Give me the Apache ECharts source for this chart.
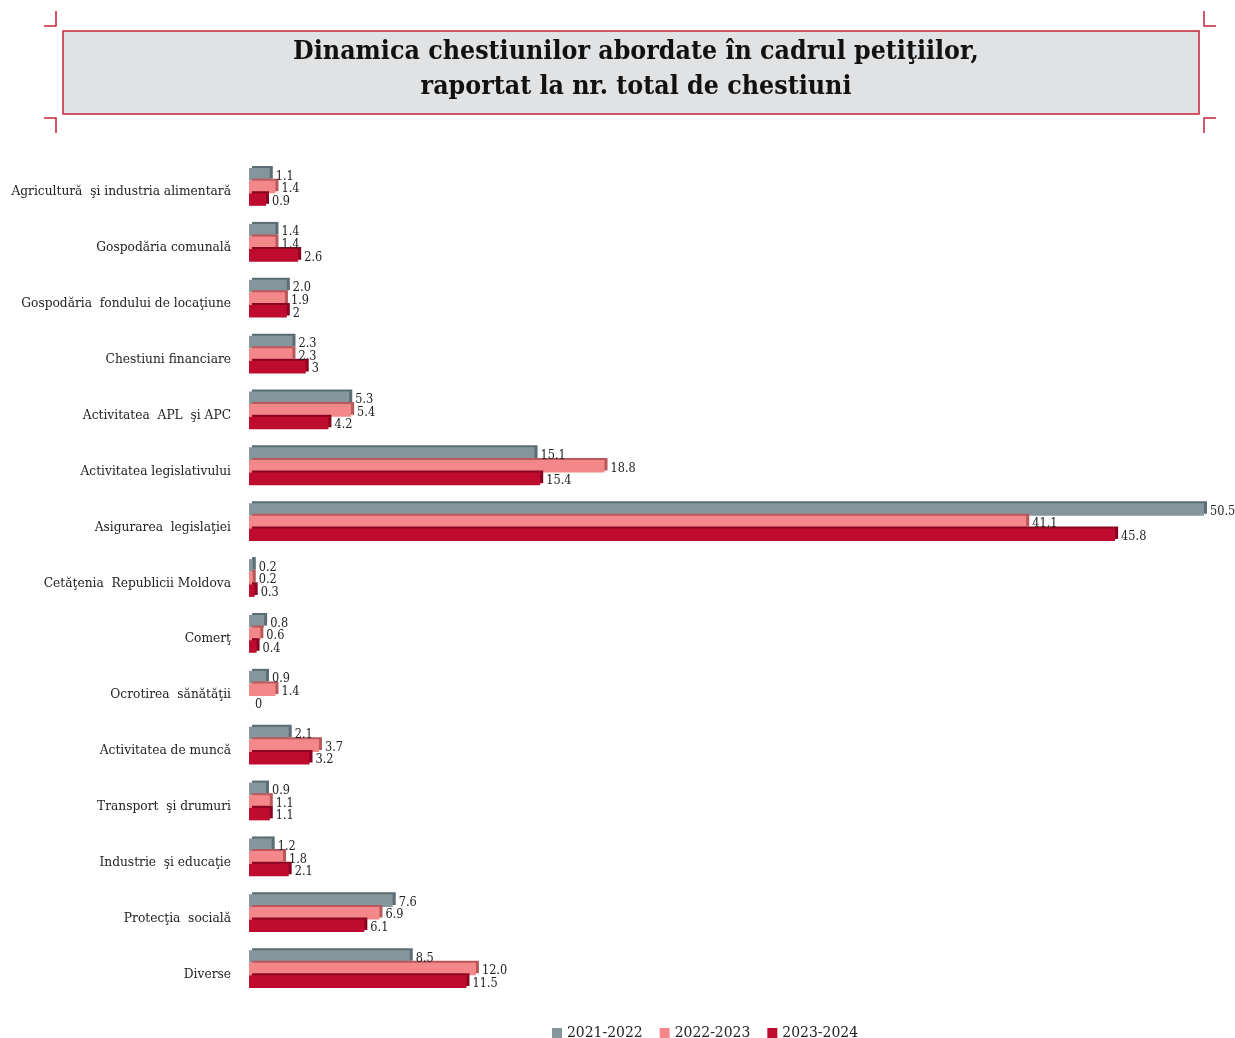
<!DOCTYPE html>
<html><head><meta charset="utf-8">
<script src="https://cdn.jsdelivr.net/npm/echarts@6/dist/echarts.min.js"></script>
<style>html,body{margin:0;padding:0;background:#fff}#c{width:1235px;height:1038px}</style>
</head><body><div id="c"></div>
<script>
const categories = ["Agricultură  şi industria alimentară","Gospodăria comunală","Gospodăria  fondului de locaţiune","Chestiuni financiare","Activitatea  APL  şi APC","Activitatea legislativului","Asigurarea  legislaţiei","Cetăţenia  Republicii Moldova","Comerţ","Ocrotirea  sănătăţii","Activitatea de muncă","Transport  şi drumuri","Industrie  şi educaţie","Protecţia  socială","Diverse"];
const seriesNames = ["2021-2022","2022-2023","2023-2024"];
const values2122 = [1.1,1.4,2.0,2.3,5.3,15.1,50.5,0.2,0.8,0.9,2.1,0.9,1.2,7.6,8.5];
const values2223 = [1.4,1.4,1.9,2.3,5.4,18.8,41.1,0.2,0.6,1.4,3.7,1.1,1.8,6.9,12.0];
const values2324 = [0.9,2.6,2,3,4.2,15.4,45.8,0.3,0.4,0,3.2,1.1,2.1,6.1,11.5];
const colors = ["#84969c","#f4878a","#bf0c2e"];
const sideColors = ["#5b6c72","#b9585b","#8a0620"];
const serif = "'DejaVu Serif Condensed','DejaVu Serif',serif";
const titleFont = "'DejaVu Serif Condensed','DejaVu Serif',serif";

const chart = echarts.init(document.getElementById('c'), null, {renderer:'canvas'});
const allVals = [values2122, values2223, values2324];
const fmt = [v=>v.toFixed(1), v=>v.toFixed(1), v=>String(v)];
const red = "#c8203a";
function corner(x1,y1,x2,y2,x3,y3){return {type:'polyline',shape:{points:[[x1,y1],[x2,y2],[x3,y3]]},style:{stroke:red,lineWidth:1.5,fill:null}};}
chart.setOption({
  animation:false,
  color: colors,
  graphic:[
    {type:'rect',shape:{x:63,y:31,width:1136,height:83},style:{fill:'#e1e2e4',stroke:red,lineWidth:1.5}},
    {type:'text',style:{x:636,y:70,text:'Dinamica chestiunilor abordate în cadrul petiţiilor,\nraportat la nr. total de chestiuni',align:'center',verticalAlign:'middle',font:"bold 26.5px "+titleFont,fill:'#111',lineHeight:35}},
    corner(44,26,56,26,56,11),
    corner(44,118,56,118,56,133),
    corner(1216,26,1204,26,1204,11),
    corner(1216,118,1204,118,1204,133)
  ],
  legend:{left:547,top:1020,itemWidth:10,itemHeight:10,itemGap:17,icon:'rect',
    textStyle:{fontFamily:serif,fontSize:15.5,color:'#222'},data:seriesNames},
  grid:{left:249,top:159,width:955,height:838,containLabel:false},
  xAxis:{type:'value',min:0,max:50.5,show:false},
  yAxis:{type:'category',data:categories,inverse:true,
    axisLine:{show:false},axisTick:{show:false},
    axisLabel:{margin:18,fontFamily:serif,fontSize:13.6,color:'#222',verticalAlign:'top',lineHeight:10}},
  series: seriesNames.map((n,i)=>({
    name:n,type:'bar',data:allVals[i],barWidth:12.6,barGap:'0%',
    itemStyle:{color:colors[i],shadowColor:sideColors[i],shadowBlur:0,shadowOffsetX:3,shadowOffsetY:-2},
    label:{show:true,position:'right',distance:6,offset:[0,2],fontFamily:serif,fontSize:12.6,color:'#222',
      formatter:p=>fmt[i](p.value)}
  }))
});
</script></body></html>
